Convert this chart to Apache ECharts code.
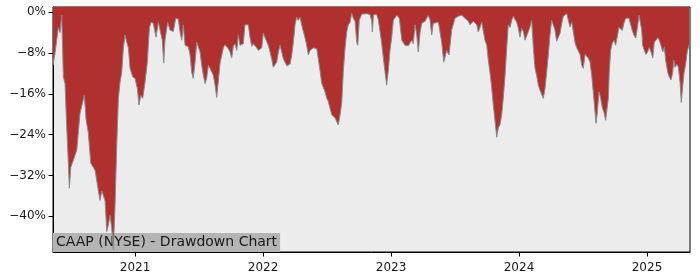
<!DOCTYPE html>
<html>
<head>
<meta charset="utf-8">
<script src="https://cdn.jsdelivr.net/npm/echarts@6/dist/echarts.min.js"></script>
<style>
html,body{margin:0;padding:0;background:#fff;}
#chart{width:700px;height:280px;}
</style>
</head>
<body>
<div id="chart"></div>
<script>
// Dates as decimal years
const dates = [
2020.359,2020.375,2020.388,2020.401,2020.414,2020.427,2020.435,2020.440,2020.453,2020.466,
2020.479,2020.487,2020.498,2020.518,2020.545,2020.570,2020.604,2020.617,2020.635,2020.654,
2020.688,2020.713,2020.727,2020.740,2020.752,2020.766,2020.779,2020.791,2020.805,2020.818,
2020.830,2020.844,2020.857,2020.870,2020.883,2020.896,2020.909,2020.922,2020.935,2020.948,
2020.961,2020.982,2021.000,2021.018,2021.031,2021.045,2021.060,2021.078,2021.096,2021.112,
2021.125,2021.143,2021.164,2021.182,2021.195,2021.213,2021.224,2021.234,2021.255,2021.273,
2021.299,2021.318,2021.338,2021.352,2021.365,2021.377,2021.391,2021.416,2021.430,2021.443,
2021.455,2021.469,2021.482,2021.495,2021.508,2021.521,2021.534,2021.547,2021.560,2021.573,
2021.586,2021.599,2021.612,2021.625,2021.638,2021.651,2021.664,2021.677,2021.690,2021.703,
2021.729,2021.742,2021.755,2021.768,2021.781,2021.795,2021.807,2021.820,2021.846,2021.859,
2021.885,2021.898,2021.912,2021.924,2021.951,2021.963,2021.977,2021.990,2022.002,2022.016,
2022.029,2022.041,2022.055,2022.068,2022.080,2022.094,2022.107,2022.120,2022.133,2022.146,
2022.159,2022.172,2022.185,2022.211,2022.224,2022.237,2022.250,2022.263,2022.276,2022.289,
2022.302,2022.315,2022.328,2022.341,2022.354,2022.367,2022.380,2022.393,2022.420,2022.432,
2022.445,2022.459,2022.471,2022.484,2022.498,2022.510,2022.523,2022.537,2022.549,2022.562,
2022.576,2022.588,2022.602,2022.615,2022.627,2022.641,2022.654,2022.666,2022.680,2022.693,
2022.705,2022.719,2022.732,2022.740,2022.752,2022.771,2022.784,2022.810,2022.836,2022.849,
2022.854,2022.863,2022.888,2022.901,2022.927,2022.945,2022.966,2022.979,2022.992,2023.005,
2023.018,2023.045,2023.065,2023.084,2023.109,2023.135,2023.162,2023.174,2023.188,2023.201,
2023.213,2023.227,2023.240,2023.266,2023.291,2023.305,2023.318,2023.330,2023.370,2023.396,
2023.412,2023.435,2023.453,2023.474,2023.500,2023.526,2023.552,2023.578,2023.604,2023.617,
2023.643,2023.670,2023.682,2023.695,2023.709,2023.721,2023.734,2023.748,2023.760,2023.773,
2023.787,2023.799,2023.812,2023.826,2023.838,2023.852,2023.865,2023.877,2023.891,2023.904,
2023.916,2023.930,2023.943,2023.955,2023.969,2023.982,2023.995,2024.008,2024.021,2024.034,
2024.047,2024.060,2024.073,2024.086,2024.099,2024.112,2024.125,2024.138,2024.151,2024.164,
2024.177,2024.190,2024.203,2024.216,2024.229,2024.242,2024.255,2024.268,2024.281,2024.294,
2024.307,2024.320,2024.334,2024.346,2024.359,2024.373,2024.385,2024.398,2024.412,2024.424,
2024.438,2024.451,2024.463,2024.477,2024.490,2024.502,2024.516,2024.529,2024.541,2024.555,
2024.568,2024.580,2024.594,2024.602,2024.612,2024.625,2024.638,2024.651,2024.664,2024.677,
2024.690,2024.698,2024.705,2024.716,2024.729,2024.742,2024.755,2024.768,2024.781,2024.795,
2024.807,2024.820,2024.834,2024.846,2024.859,2024.873,2024.885,2024.898,2024.912,2024.924,
2024.938,2024.951,2024.959,2024.966,2024.979,2024.992,2025.005,2025.018,2025.031,2025.045,
2025.057,2025.070,2025.084,2025.096,2025.109,2025.123,2025.135,2025.148,2025.162,2025.174,
2025.188,2025.201,2025.209,2025.219,2025.232,2025.245,2025.258,2025.268,2025.279,2025.289,
2025.302,2025.315,2025.328
];
// Drawdown in percent
const drawdown = [
-10.4,-8,-5.5,-3,-4,-0.6,-0.5,-12.7,-14,-22.5,
-29.6,-34.5,-30.4,-29,-27,-19.8,-16.3,-21,-23.7,-29.6,
-31,-35,-36.9,-35,-35.9,-37,-43,-41.8,-39.8,-42.4,
-46.5,-37.8,-26,-16.9,-13.7,-11.8,-7,-4.5,-5.9,-7,
-11,-12.7,-13,-15,-18.2,-16.3,-16.9,-13.7,-9.8,-3.1,
-2,-2.2,-4.9,-2,-2,-5.5,-10,-5.5,-2,-3.5,
-3.8,-1.2,-1.4,-3.9,-5.5,-2.5,-6.5,-6.8,-8.4,-11.8,
-13,-9.8,-5.9,-6.2,-7.8,-10.4,-12.4,-14,-12.9,-10.4,
-11,-11.2,-12.4,-14.3,-16.7,-13.5,-10,-9.8,-7,-6.4,
-7.2,-7.8,-9,-6.7,-6.2,-7.5,-4.5,-6.5,-6.2,-2.5,
-2.5,-4.9,-6.7,-6.2,-7,-7.5,-7.6,-7,-4.1,-5,
-5.2,-6.5,-7.8,-9.2,-10.8,-10.5,-9.8,-7.8,-6.5,-7.8,
-9.2,-9.8,-10.5,-10.2,-8.5,-5.9,-2.5,-1,-1.6,-1,
-2.5,-3.8,-5,-6.5,-8.4,-7.5,-7.8,-7,-7.2,-9.2,
-11.4,-14,-14.3,-15.6,-16.9,-17.5,-18.8,-20.1,-20.4,-20.7,
-21,-22.1,-20.1,-17.7,-11.8,-7,-3.9,-2.5,-2,-0.2,
-1.2,-1.8,-5.9,-6.5,-1.6,-0.4,-0.2,-0.3,-0.5,-1.7,
-3.9,-0.5,-0.5,-1.5,-6.1,-10,-14.3,-11.4,-7.5,-5,
-1.6,-0.6,-1.2,-5.5,-6.5,-6.6,-5.5,-6.2,-2.5,-4.5,
-7.8,-4,-2.2,-1.8,-0.6,-1.6,-4.5,-2.2,-2,-5.9,
-9.8,-7.5,-8.4,-3.5,-1.2,-0.8,-0.6,-1.2,-1.8,-2.5,
-1.8,-2.5,-3.9,-4.2,-2,-2.2,-5.5,-6.5,-9.4,-11.8,
-14.9,-18.2,-21.2,-24.5,-22.7,-22,-20,-16.9,-12.4,-7,
-2.5,-3,-1.6,-0.8,-0.8,-2,-3.2,-4.9,-3.2,-3.8,
-5.5,-5.2,-3.8,-2.9,-1.6,-7,-11,-12.4,-14.3,-15.3,
-15.6,-16.9,-15,-11.8,-8.4,-4.5,-1.6,-1.6,-3.5,-5.7,
-5.5,-4.2,-2.2,-0.8,-0.6,-0.3,-1.6,-2.9,-2,-3.8,
-6,-7,-7.6,-8.3,-10.4,-11,-8.3,-8,-9,-9.8,
-12.4,-15.6,-19.6,-21.8,-19.6,-15.6,-16.9,-18.8,-19.6,-21.2,
-21.2,-16.9,-11.8,-7.5,-6.1,-5.5,-6.5,-6.5,-3,-2.8,
-3.6,-2.2,-1.2,-1,-1.2,-1.4,-3.6,-4.5,-5.1,-3.2,
-0.6,-0.5,-3.6,-6.5,-7.5,-8.3,-7.8,-6.9,-7.8,-9,
-5.9,-5.5,-5,-5.5,-6.5,-7.8,-6.9,-9.8,-11.8,-12.7,
-13.3,-11.8,-9.4,-10.8,-10.2,-10.8,-13.7,-17.7,-14.5,-12,
-10.2,-7.6,-6.5
];
const yearTicks = [2021, 2022, 2023, 2024, 2025];
const pctTicks = [0, -8, -16, -24, -32, -40];
const titleText = 'CAAP (NYSE) - Drawdown Chart';

const seriesData = dates.map((d, i) => [d, drawdown[i]]);
const font = 'DejaVu Sans';

const chart = echarts.init(document.getElementById('chart'), null, {renderer: 'canvas'});
chart.setOption({
  animation: false,
  backgroundColor: '#ffffff',
  title: {
    text: titleText,
    left: 53,
    bottom: 28,
    padding: [2, 3, 2, 3],
    backgroundColor: '#b4b4b4',
    z: 1,
    textStyle: {fontFamily: font, fontSize: 14, fontWeight: 'normal', color: '#1a1a1a', lineHeight: 15}
  },
  grid: {
    left: 53, right: 10, top: 7, bottom: 28,
    show: true, backgroundColor: '#ececec', borderColor: '#000', borderWidth: 1
  },
  xAxis: {
    type: 'value',
    min: 2020.359, max: 2025.336,
    splitLine: {show: false},
    axisLine: {show: true, onZero: false, lineStyle: {color: '#000', width: 1}},
    axisTick: {show: true, length: 4.5, customValues: yearTicks, lineStyle: {color: '#000'}},
    axisLabel: {customValues: yearTicks, formatter: v => String(Math.round(v)),
      fontFamily: font, fontSize: 12, color: '#1a1a1a', margin: 10}
  },
  yAxis: {
    type: 'value',
    min: -47, max: 1,
    splitLine: {show: false},
    axisLine: {show: true, lineStyle: {color: '#000', width: 1}},
    axisTick: {show: true, length: 4.5, customValues: pctTicks, lineStyle: {color: '#000'}},
    axisLabel: {customValues: pctTicks, formatter: v => (v < 0 ? '\u2212' + Math.abs(v) : v) + '%',
      fontFamily: font, fontSize: 12, color: '#1a1a1a', margin: 7}
  },
  series: [{
    type: 'line',
    data: seriesData,
    showSymbol: false,
    smooth: false,
    z: 2,
    lineStyle: {color: '#8a8a8a', width: 1},
    areaStyle: {color: '#b03030', opacity: 1, origin: 'end'}
  }]
});
</script>
</body>
</html>
